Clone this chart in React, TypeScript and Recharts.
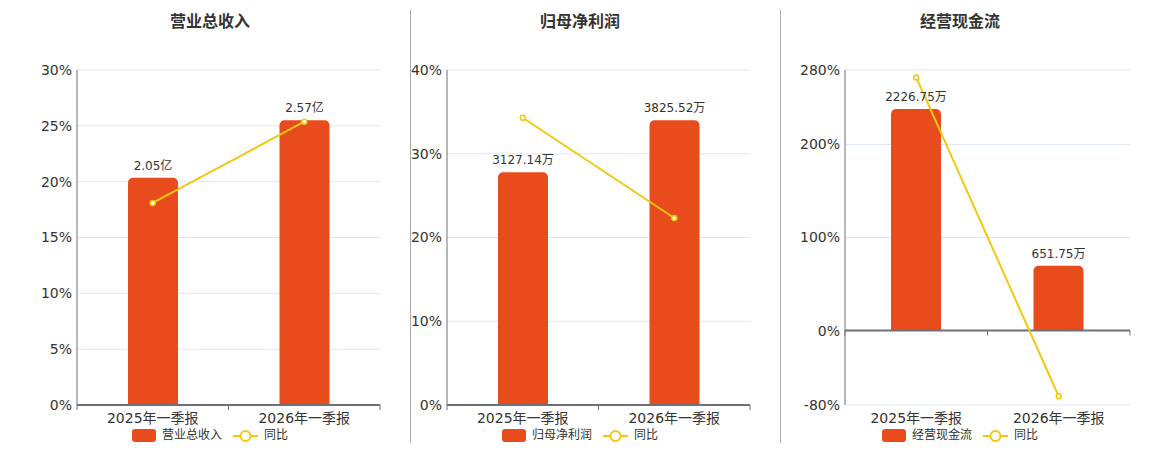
import React from 'react';
import {
  ComposedChart,
  Bar,
  Line,
  XAxis,
  YAxis,
  CartesianGrid,
  ReferenceLine,
  LabelList,
} from 'recharts';

// ---------- data ----------
const categories = ['2025年一季报', '2026年一季报'];

const revenueValues = [2.05, 2.57]; // 亿
const revenueLabels = ['2.05亿', '2.57亿'];
const revenueYoY = [18.1, 25.37];
const revenueTicks = [0, 5, 10, 15, 20, 25, 30];

const profitValues = [3127.14, 3825.52]; // 万
const profitLabels = ['3127.14万', '3825.52万'];
const profitYoY = [34.3, 22.33];
const profitTicks = [0, 10, 20, 30, 40];

const cashValues = [2226.75, 651.75]; // 万
const cashLabels = ['2226.75万', '651.75万'];
const cashYoY = [272.0, -70.73];
const cashTicks = [-80, 0, 100, 200, 280];

const BAR_COLOR = '#E84C1D';
const LINE_COLOR = '#F2C80F';
const AXIS_COLOR = '#6E7079';
const GRID_COLOR = '#E0E6F1';
const TEXT_COLOR = '#333333';
const FONT = '"DejaVu Sans", "Noto Sans CJK SC", sans-serif';

type PanelProps = {
  left: number;
  width: number;
  yAxisWidth: number;
  title: string;
  center: number;
  seriesName: string;
  values: number[];
  labels: string[];
  yoy: number[];
  ticks: number[];
};

const ZeroAxis = (props: any) => {
  const { x1, x2, y1 } = props;
  const mid = (x1 + x2) / 2;
  return (
    <g>
      <line x1={x1} y1={y1} x2={x2} y2={y1} stroke={AXIS_COLOR} strokeWidth={2} />
      <line x1={x1} y1={y1} x2={x1} y2={y1 + 5} stroke={AXIS_COLOR} strokeWidth={1} />
      <line x1={mid} y1={y1} x2={mid} y2={y1 + 5} stroke={AXIS_COLOR} strokeWidth={1} />
      <line x1={x2} y1={y1} x2={x2} y2={y1 + 5} stroke={AXIS_COLOR} strokeWidth={1} />
    </g>
  );
};

const Panel = ({ left, width, yAxisWidth, title, center, seriesName, values, labels, yoy, ticks }: PanelProps) => {
  const data = categories.map((c, i) => ({ name: c, value: values[i], label: labels[i], yoy: yoy[i] }));
  const pctMin = ticks[0];
  const pctMax = ticks[ticks.length - 1];
  const barMax = Math.max(...values) / 0.85;
  const barMin = pctMin < 0 ? (barMax * pctMin) / pctMax : 0;
  return (
    <>
      <div
        style={{
          position: 'absolute',
          left: center - 100,
          width: 200,
          top: 13,
          textAlign: 'center',
          fontFamily: FONT,
          fontSize: 16,
          fontWeight: 'bold',
          color: TEXT_COLOR,
          lineHeight: '18px',
        }}
      >
        {title}
      </div>
      <div style={{ position: 'absolute', left, top: 0 }}>
        <ComposedChart
          width={width}
          height={450}
          data={data}
          margin={{ top: 70, right: 20, bottom: 15, left: 0 }}
          style={{ fontFamily: FONT }}
        >
          <CartesianGrid yAxisId="pct" vertical={false} stroke={GRID_COLOR} />
          <XAxis
            dataKey="name"
            axisLine={false}
            tickLine={false}
            height={30}
            tick={{ fill: TEXT_COLOR, fontSize: 14 }}
            interval={0}
          />
          <YAxis
            yAxisId="pct"
            orientation="left"
            width={yAxisWidth}
            domain={[pctMin, pctMax]}
            ticks={ticks}
            interval={0}
            tickFormatter={(v: number) => `${v}%`}
            axisLine={{ stroke: AXIS_COLOR }}
            tickLine={false}
            tickSize={0}
            tickMargin={5}
            tick={{ fill: TEXT_COLOR, fontSize: 14 }}
          />
          <YAxis yAxisId="bar" orientation="right" width={0} hide domain={[barMin, barMax]} allowDataOverflow />
          <Bar
            yAxisId="bar"
            dataKey="value"
            name={seriesName}
            fill={BAR_COLOR}
            barSize={50}
            radius={[5, 5, 0, 0]}
            isAnimationActive={false}
          >
            <LabelList dataKey="label" position="top" offset={8} fill={TEXT_COLOR} fontSize={12} />
          </Bar>
          <ReferenceLine yAxisId="pct" y={0} shape={ZeroAxis} />
          <Line
            yAxisId="pct"
            dataKey="yoy"
            name="同比"
            stroke={LINE_COLOR}
            strokeWidth={2}
            dot={{ r: 2.5, fill: '#ffffff', stroke: LINE_COLOR, strokeWidth: 1.5 }}
            activeDot={false}
            isAnimationActive={false}
          />
        </ComposedChart>
      </div>
      <div
        style={{
          position: 'absolute',
          left: center - 150,
          width: 300,
          top: 428,
          display: 'flex',
          justifyContent: 'center',
          alignItems: 'center',
          fontFamily: FONT,
          fontSize: 12,
          color: TEXT_COLOR,
          lineHeight: '15px',
        }}
      >
        <span
          style={{ display: 'inline-block', width: 24, height: 13, borderRadius: 3, background: BAR_COLOR, marginRight: 6 }}
        />
        <span style={{ marginRight: 11 }}>{seriesName}</span>
        <svg width={25} height={14} style={{ marginRight: 6 }}>
          <line x1={0} y1={7} x2={25} y2={7} stroke={LINE_COLOR} strokeWidth={2} />
          <circle cx={12.5} cy={7} r={5} fill="#ffffff" stroke={LINE_COLOR} strokeWidth={2} />
        </svg>
        <span>同比</span>
      </div>
    </>
  );
};

export default function App() {
  return (
    <div style={{ position: 'relative', width: 1160, height: 450, background: '#ffffff', overflow: 'hidden' }}>
      <style>{`body{margin:0;}`}</style>
      <Panel
        left={0}
        width={400}
        yAxisWidth={77}
        title="营业总收入"
        center={210}
        seriesName="营业总收入"
        values={revenueValues}
        labels={revenueLabels}
        yoy={revenueYoY}
        ticks={revenueTicks}
      />
      <Panel
        left={400}
        width={370}
        yAxisWidth={47}
        title="归母净利润"
        center={580}
        seriesName="归母净利润"
        values={profitValues}
        labels={profitLabels}
        yoy={profitYoY}
        ticks={profitTicks}
      />
      <Panel
        left={780}
        width={370}
        yAxisWidth={65}
        title="经营现金流"
        center={960}
        seriesName="经营现金流"
        values={cashValues}
        labels={cashLabels}
        yoy={cashYoY}
        ticks={cashTicks}
      />
      <div style={{ position: 'absolute', left: 410, top: 10, width: 1, height: 433, background: '#AAAAAA' }} />
      <div style={{ position: 'absolute', left: 780, top: 10, width: 1, height: 433, background: '#AAAAAA' }} />
    </div>
  );
}
